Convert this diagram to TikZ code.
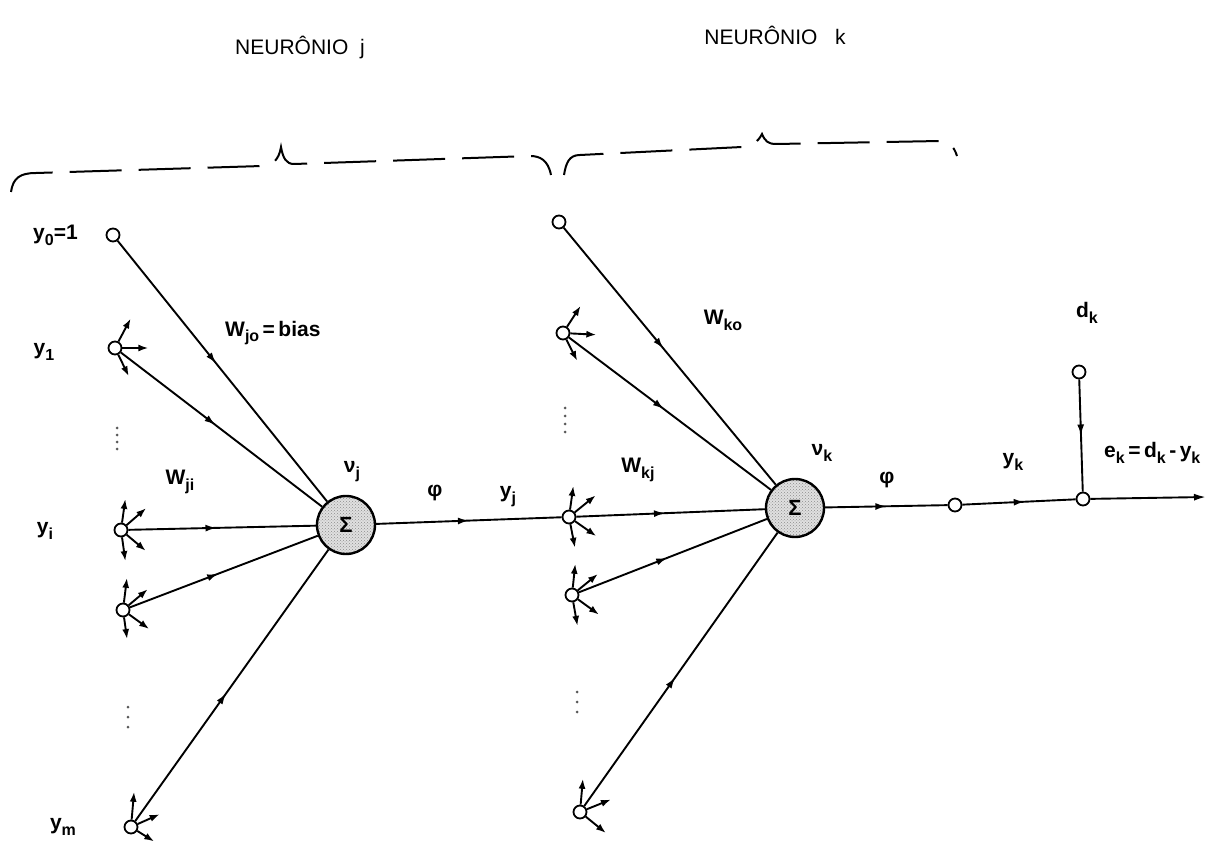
\documentclass[tikz,border=0pt]{standalone}
\usepackage{fontspec}
\setmainfont{Liberation Sans}
\usetikzlibrary{arrows.meta,decorations.markings,patterns}

% lowered subscript at a fixed size
\newcommand\lowsub[1]{\raisebox{-0.28em}{\fontsize{16pt}{16pt}\selectfont #1}}

\tikzset{
  wire/.style={line width=1.9pt},
  mid/.style={postaction={decorate},
    decoration={markings,mark=at position #1 with {\arrow{Latex[length=11pt,width=7pt]}}}},
  port/.style={circle,draw,line width=1.8pt,fill=white,minimum size=13pt,inner sep=0pt},
  sumnode/.style={circle,draw,line width=2.4pt,minimum size=58pt,inner sep=0pt,
    preaction={fill=black!12},pattern=crosshatch dots,pattern color=black!45,
    font=\fontsize{22pt}{24pt}\selectfont\bfseries},
  fan/.style={line width=1.9pt,-{Latex[length=10pt,width=7pt]}},
  lbl/.style={inner sep=0pt,font=\fontsize{21pt}{24pt}\selectfont\bfseries},
  title/.style={inner sep=0pt,font=\fontsize{21pt}{25pt}\selectfont},
  brace/.style={line width=2pt,dash pattern=on 52pt off 17pt},
}

\begin{document}
\begin{tikzpicture}[x=1pt,y=-1pt]
\useasboundingbox (0,0) rectangle (1211,842);

% headings
\node[title] (tj) at (300,48) {NEURÔNIO\ \ j};
\node[title] (tk) at (775,35) {NEURÔNIO\ \ \ k};

% dashed braces over each neuron
\draw[brace] (11,192) .. controls (13,178) and (20,173) .. (36,173) -- (262,166)
  .. controls (272,166) and (279,160) .. (281,147)
  .. controls (283,158) and (286,164) .. (294,164) -- (530,156)
  .. controls (540,156) and (548,160) .. (551,175);
\draw[brace] (564,175) .. controls (566,163) and (569,155) .. (580,155) -- (742,147)
  .. controls (752,146) and (758,142) .. (762,134)
  .. controls (765,141) and (768,144) .. (776,144) -- (940,141)
  .. controls (948,141) and (954,146) .. (957,156);

% neuron j: inputs and summing junction
\node[port] (a0) at (113,235) {};
\node[port] (a1) at (115,348) {};
\node[port] (ai) at (121,530) {};
\node[port] (a4) at (123,610) {};
\node[port] (am) at (131,827) {};
\node[sumnode] (Sj) at (346,525) {Σ};

% neuron k: inputs and summing junction
\node[port] (b0) at (559,222) {};
\node[port] (b1) at (563,333) {};
\node[port] (bj) at (569,517) {};
\node[port] (b4) at (572,595) {};
\node[port] (b5) at (580,812) {};
\node[sumnode] (Sk) at (795,508) {Σ};

% output and error nodes
\node[port] (o1) at (955,505) {};
\node[port] (dk) at (1079,372) {};
\node[port] (ek) at (1083,499) {};
\coordinate (out) at (1206,497);

% synaptic links
\foreach \n in {a0,a1,ai,a4,am} \draw[wire,mid=0.47] (\n) -- (Sj);
\foreach \n in {b0,b1,bj,b4,b5} \draw[wire,mid=0.47] (\n) -- (Sk);
\draw[wire,mid=0.5] (Sj) -- (bj);
\draw[wire,mid=0.5] (Sk) -- (o1);
\draw[wire,mid=0.55] (o1) -- (ek);
\draw[wire,mid=0.5] (dk) -- (ek);
\draw[wire,-{Latex[length=12pt,width=7pt]}] (ek) -- (out);

% fan-out arrows leaving each input node
\foreach \n/\a/\l in {
  a1/62/26, a1/0/26, a1/-64/24,
  ai/82/24, ai/41/26, ai/-40/25, ai/-82/24,
  a4/83/25, a4/40/25, a4/-36/25, a4/-82/22,
  am/85/28, am/24/24, am/-32/20,
  b1/57/25, b1/-3/26, b1/-63/24,
  bj/82/24, bj/39/27, bj/-35/26, bj/-79/24,
  b4/84/24, b4/39/26, b4/-36/26, b4/-80/24,
  b5/85/26, b5/22/26, b5/-39/26}
  \draw[fan] (\n.\a) -- ++(\a:\l pt);

% vertical ellipses
\foreach \y in {428,435,442,449} \fill[black!65] (117,\y) circle (1.5pt);
\foreach \y in {707,717,727} \fill[black!65] (128,\y) circle (1.5pt);
\foreach \y in {408,416,424,432} \fill[black!65] (565,\y) circle (1.5pt);
\foreach \y in {692,702,712} \fill[black!65] (577,\y) circle (1.5pt);

% labels
\node[lbl,anchor=west] (ly0) at (33,235) {y\lowsub{0}=1};
\node[lbl] (ly1) at (44,352) {y\lowsub{1}};
\node[lbl] (lyi) at (45,531) {y\lowsub{i}};
\node[lbl] (lym) at (63,827) {y\lowsub{m}};
\node[lbl,anchor=west] (lwj0) at (225,333) {W\lowsub{jo}\,=\,bias};
\node[lbl] (lwji) at (180,482) {W\lowsub{ji}};
\node[lbl] (lnuj) at (352,472) {ν\lowsub{j}};
\node[lbl] (lphij) at (435,493) {φ};
\node[lbl] (lyj) at (508,497) {y\lowsub{j}};
\node[lbl] (lwk0) at (723,320) {W\lowsub{ko}};
\node[lbl] (lwkj) at (638,470) {W\lowsub{kj}};
\node[lbl] (lnuk) at (822,453) {ν\lowsub{k}};
\node[lbl] (lphik) at (887,480) {φ};
\node[lbl] (lyk) at (1013,462) {y\lowsub{k}};
\node[lbl] (ldk) at (1087,313) {d\lowsub{k}};
\node[lbl,anchor=west] (lek) at (1104,453) {e\lowsub{k}\,=\,d\lowsub{k}\,-\,y\lowsub{k}};
\end{tikzpicture}
\end{document}
